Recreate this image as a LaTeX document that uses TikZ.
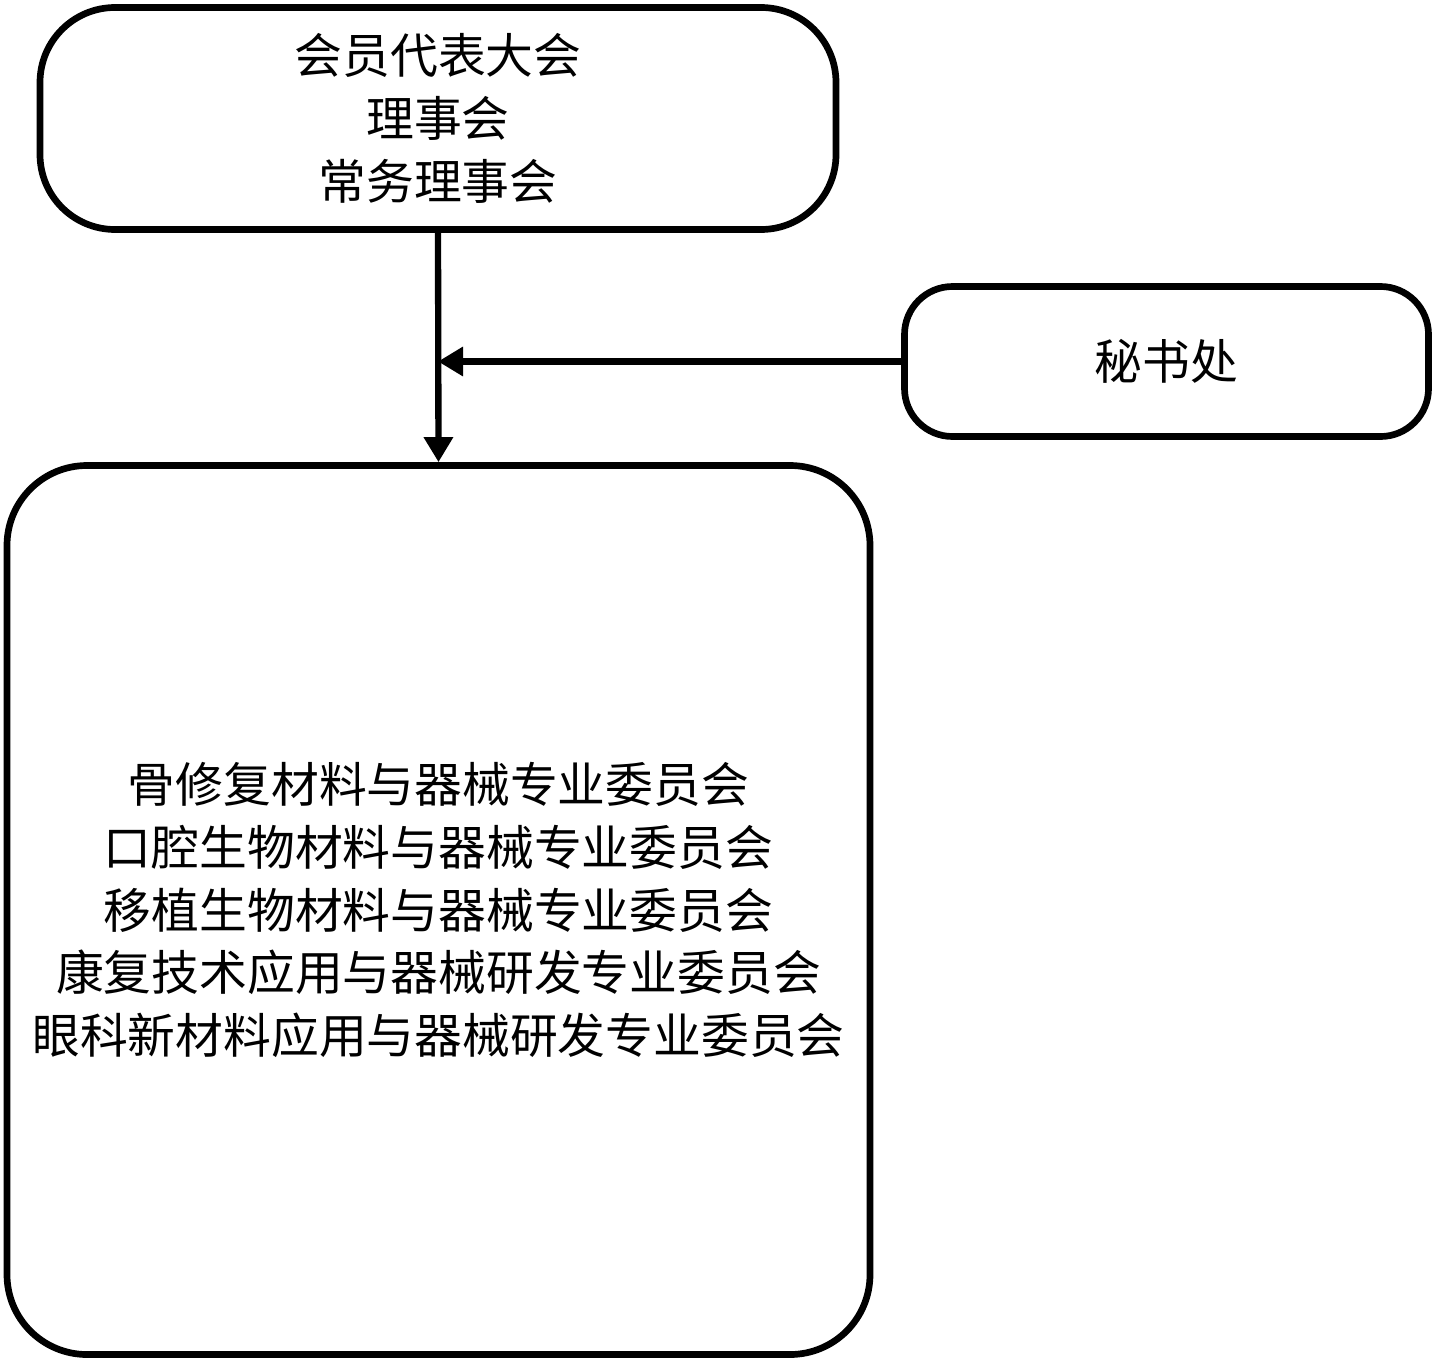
\documentclass[tikz,border=0pt]{standalone}
\usepackage{fontspec}
\setmainfont{Noto Sans CJK SC}
\usetikzlibrary{arrows.meta,positioning}

\begin{document}
\begin{tikzpicture}[auto,
        box/.style={draw, line width=3.8pt, align=center, inner sep=0pt,
            font=\fontsize{27.2}{35.7}\selectfont},
        link/.style={line width=3.6pt, -{Triangle[length=0.5cm,width=0.56cm]}}]
        \useasboundingbox (0,0) rectangle (28.7,-27.22);
        \node[box, rounded corners=1.5cm, minimum width=15.92cm, minimum height=4.44cm] at (8.76, -2.37)(council){会员代表大会\\理事会\\常务理事会};
        \node[box, rounded corners=0.96cm, minimum width=10.48cm, minimum height=3.0cm] at (23.33, -7.23)(office){秘书处};
        \node[box, rounded corners=1.6cm, minimum width=17.26cm, minimum height=17.78cm] at (8.77, -18.2)(committees){骨修复材料与器械专业委员会\\口腔生物材料与器械专业委员会\\移植生物材料与器械专业委员会\\康复技术应用与器械研发专业委员会\\眼科新材料应用与器械研发专业委员会};
        \coordinate (join) at (council.south |- office.west);

        \path[link]
            (council.south)edge(committees.north)
            (office.west)edge(join)
            ;
    \end{tikzpicture}
\end{document}
